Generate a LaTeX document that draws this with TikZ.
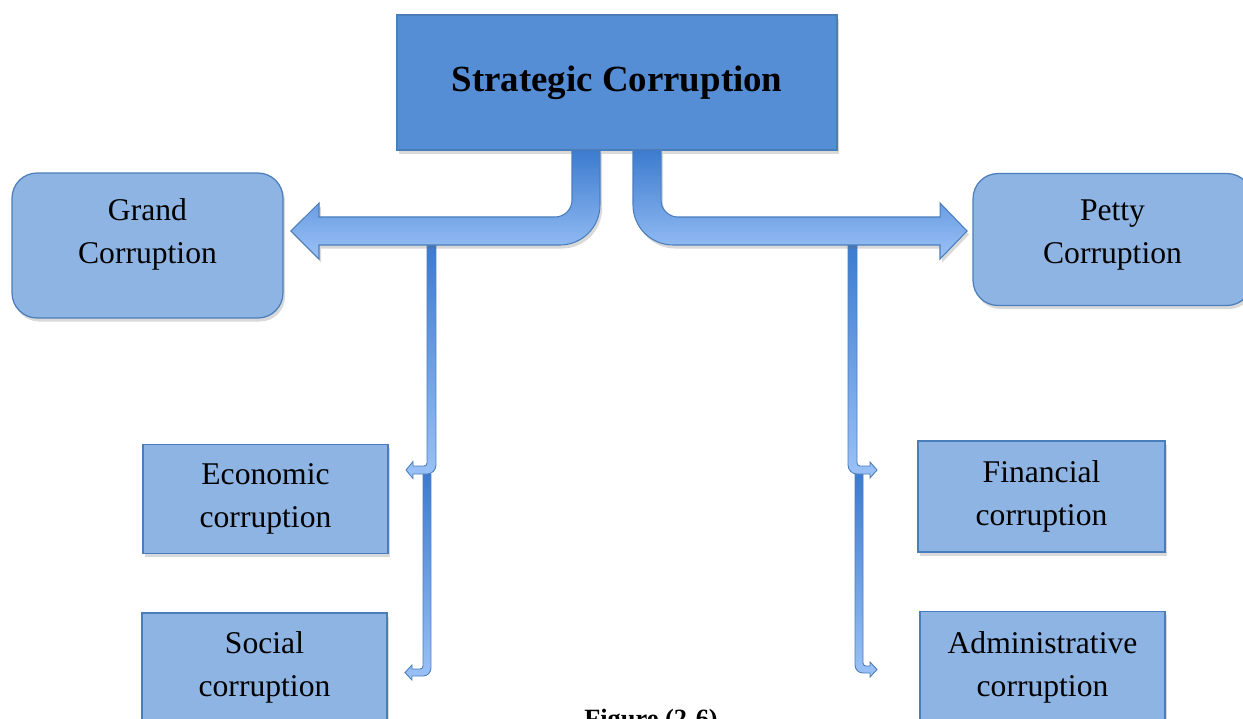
\documentclass[tikz,border=0pt]{standalone}
\usepackage{fontspec}
\setmainfont{Liberation Serif}
\usepackage{tikz}
\usetikzlibrary{calc,shadows}
\definecolor{rootfill}{HTML}{558ED5}
\definecolor{boxfill}{HTML}{8EB4E3}
\definecolor{boxedge}{HTML}{4A7EBB}
\definecolor{arrowtop}{HTML}{3C7BCF}
\definecolor{arrowbot}{HTML}{9CC2F7}
\newcommand{\boxfont}{\fontsize{18}{24.5}\selectfont}
\newcommand{\titlefont}{\fontsize{21}{25}\selectfont\bfseries}
\newcommand{\capfont}{\fontsize{15}{18}\selectfont\bfseries}

\begin{document}
\begin{tikzpicture}[x=0.02cm,y=-0.02cm]
        \tikzstyle{boxshadow} = [drop shadow={shadow xshift=1.2pt, shadow yshift=-2pt, opacity=0.25, fill=black!60}]
        \tikzstyle{rootbox} = [rectangle, draw=boxedge, fill=rootfill, line width=0.7pt, outer sep=0pt, boxshadow, minimum width=8.8cm, minimum height=2.7cm, font=\titlefont]
        \tikzstyle{kindbox} = [rectangle, rounded corners=0.5cm, draw=boxedge, fill=boxfill, line width=0.7pt, outer sep=0pt, boxshadow, align=center, font=\boxfont]
        \tikzstyle{subbox} = [rectangle, draw=boxedge, fill=boxfill, line width=0.7pt, outer sep=0pt, boxshadow, align=center, font=\boxfont, minimum width=4.9cm, minimum height=2.18cm]
        \tikzstyle{bigarrow} = [draw=boxedge, line width=0.6pt, top color=arrowtop, bottom color=arrowbot, boxshadow]
        \tikzstyle{thinarrow} = [draw=boxedge, line width=0.5pt, top color=arrowtop, bottom color=arrowbot]

        \useasboundingbox (0,0) rectangle (1243,718);
        \clip (0,0) rectangle (1243,718);

        % Nodes
        \node[rootbox] (strat) at (617,82.5) {Strategic Corruption};
        \node[kindbox, minimum width=5.42cm, minimum height=2.9cm, text depth=17pt] (grand) at (147.5,245.5) {Grand\\Corruption};
        \node[kindbox, minimum width=5.58cm, minimum height=2.64cm, text depth=9pt] (petty) at (1112.5,239.5) {Petty\\Corruption};
        \node[subbox] (econ) at (265.5,499) {Economic\\corruption};
        \node[subbox] (social) at (264.5,667.5) {Social\\corruption};
        \node[subbox, minimum width=4.94cm, minimum height=2.22cm] (fin) at (1041.5,496.5) {Financial\\corruption};
        \node[subbox, minimum height=2.22cm] (admin) at (1042.5,667) {Administrative\\corruption};
        \node[font=\capfont, anchor=base] (fig) at (651,727) {Figure (2-6)};

        \coordinate (lfork) at (427,245);
        \coordinate (rfork) at (848,245);
        \coordinate (lmid) at (423,474);
        \coordinate (rmid) at (855,474);

        % Edges
        \path[thinarrow] (lmid) -- ++(0,192) arc[start angle=0, end angle=90, radius=3] -- ++(-8,0) -- ++(0,-4)
            -- ($(social.east)+(18,5)$) -- ++(7,7.5) -- ++(0,-4) -- ++(11,0) arc[start angle=90, end angle=0, radius=8] -- ++(0,-194) -- cycle;
        \path[thinarrow] (rmid) -- ++(0,191) arc[start angle=180, end angle=90, radius=8] -- ++(7,0) -- ++(0,4)
            -- ($(admin.west)+(-43,2.5)$) -- ++(-7,-7.5) -- ++(0,4) -- ++(-4,0) arc[start angle=90, end angle=180, radius=3] -- ++(0,-189) -- cycle;
        \path[thinarrow] (lfork) -- ++(0,218) arc[start angle=0, end angle=90, radius=3] -- ++(-11,0) -- ++(0,-4.5)
            -- ($(econ.east)+(18,-29)$) -- ++(7,8.5) -- ++(0,-4.5) -- ++(14,0) arc[start angle=90, end angle=0, radius=9] -- ++(0,-220) -- cycle;
        \path[thinarrow] (rfork) -- ++(0,220) arc[start angle=180, end angle=90, radius=9] -- ++(13,0) -- ++(0,4)
            -- ($(fin.west)+(-41,-26.5)$) -- ++(-7,-8) -- ++(0,4) -- ++(-10,0) arc[start angle=90, end angle=180, radius=3] -- ++(0,-218) -- cycle;
        \path[bigarrow] ($(strat.south)+(-45,0)$) -- ++(0,50) arc[start angle=0, end angle=90, radius=17] -- ++(-236,0) -- ++(0,-14)
            -- ($(grand.east)+(8,-14.5)$) -- ++(28,28) -- ++(0,-14) -- ++(241,0) arc[start angle=90, end angle=0, radius=40] -- ++(0,-55) -- cycle;
        \path[bigarrow] ($(strat.south)+(16,0)$) -- ++(0,55) arc[start angle=180, end angle=90, radius=40] -- ++(267,0) -- ++(0,14)
            -- ($(petty.west)+(-6,-8.5)$) -- ++(-27,-28) -- ++(0,14) -- ++(-262,0) arc[start angle=90, end angle=180, radius=17] -- ++(0,-50) -- cycle;
\end{tikzpicture}
\end{document}
